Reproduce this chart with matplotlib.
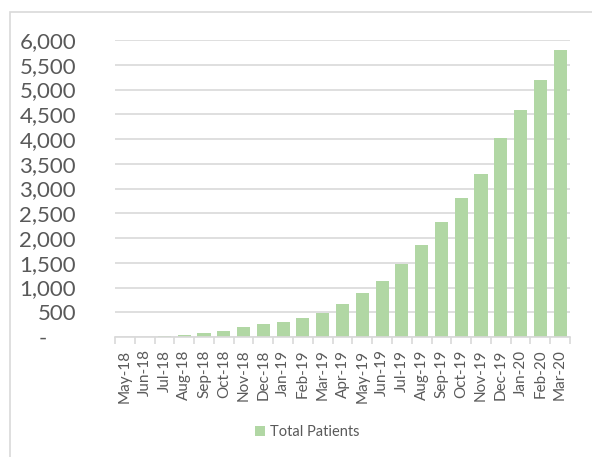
import matplotlib.pyplot as plt
from matplotlib.patches import Rectangle

months = ['May-18', 'Jun-18', 'Jul-18', 'Aug-18', 'Sep-18', 'Oct-18', 'Nov-18',
          'Dec-18', 'Jan-19', 'Feb-19', 'Mar-19', 'Apr-19', 'May-19', 'Jun-19',
          'Jul-19', 'Aug-19', 'Sep-19', 'Oct-19', 'Nov-19', 'Dec-19', 'Jan-20',
          'Feb-20', 'Mar-20']
total_patients = [4, 10, 27, 47, 74, 128, 196, 257, 311, 385, 486, 675, 898,
                  1135, 1466, 1859, 2325, 2804, 3284, 4014, 4581, 5189, 5791]
y_ticks = [0, 500, 1000, 1500, 2000, 2500, 3000, 3500, 4000, 4500, 5000, 5500, 6000]

plt.rcParams['font.family'] = ['Lato', 'DejaVu Sans']

fig = plt.figure(figsize=(5.92, 4.57), dpi=100)
# chart border (right/bottom edges run off the picture)
fig.patches.append(Rectangle((10 / 592, -0.05), 1.0, 1 - 12 / 457 + 0.05,
                             transform=fig.transFigure, fill=False,
                             edgecolor='#D9D9D9', linewidth=1.2))

ax = fig.add_axes([115 / 592, 1 - 337 / 457, 455 / 592, 297 / 457])
x = range(len(months))
ax.bar(x, total_patients, width=0.66, color='#B1D7A4', label='Total Patients', zorder=2)

ax.set_xlim(-0.5, len(months) - 0.5)
ax.set_ylim(0, 6000)
ax.set_yticks(y_ticks)
ax.set_yticklabels(['-     '] + [f'{v:,}' for v in y_ticks[1:]])
ax.yaxis.grid(True, color='#D9D9D9', linewidth=1.2, zorder=0)
ax.tick_params(axis='y', length=0, pad=28, labelsize=16, labelcolor='#595959')

ax.set_xticks(list(x))
ax.set_xticklabels(months, rotation=90)
ax.set_xticks([i + 0.5 for i in range(-1, len(months))], minor=True)
ax.tick_params(axis='x', which='major', length=0, pad=9, labelsize=11, labelcolor='#595959')
ax.tick_params(axis='x', which='minor', length=5, color='#D9D9D9', width=1.2)

for side in ['top', 'right', 'left']:
    ax.spines[side].set_visible(False)
ax.spines['bottom'].set_color('#D9D9D9')
ax.spines['bottom'].set_linewidth(1.2)

fig.legend(loc='center', bbox_to_anchor=(307 / 592, 1 - 432 / 457), frameon=False,
           fontsize=10.5, handlelength=0.7, handleheight=0.7, handletextpad=0.3,
           labelcolor='#595959')

fig.savefig('out.png', dpi=100)
